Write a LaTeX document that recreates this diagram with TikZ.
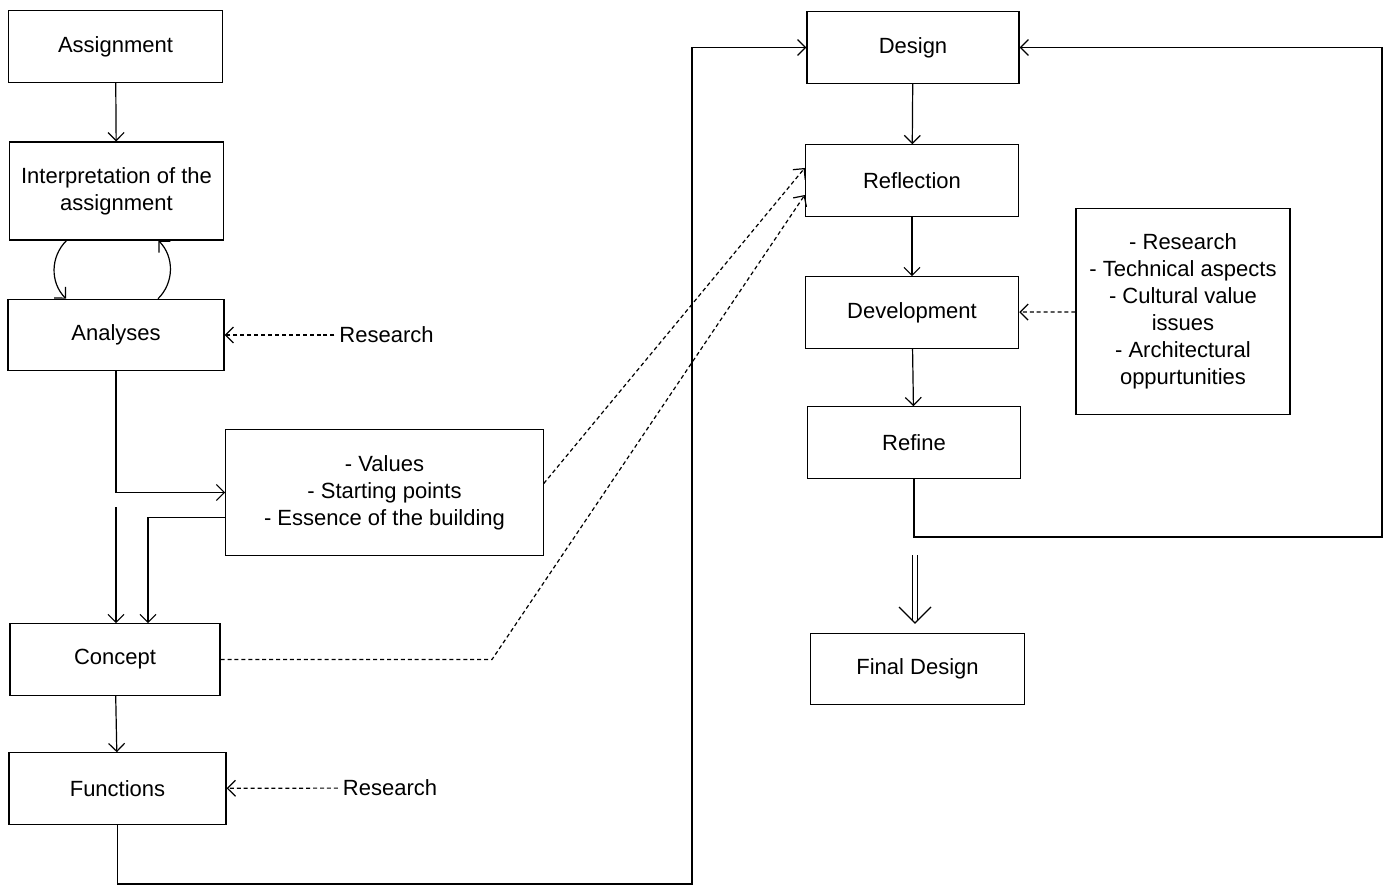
\documentclass[tikz,border=0pt]{standalone}
\usepackage{fontspec}
\setmainfont{Liberation Sans}
\usetikzlibrary{arrows.meta, positioning}

\begin{document}
\begin{tikzpicture}[
    x=0.75pt, y=-0.75pt,
    >={Straight Barb[length=6pt, width=12pt]},
    line width=0.9pt,
    font=\fontsize{16.5pt}{20.2pt}\selectfont,
    stepbox/.style={draw, minimum width=160pt, minimum height=53.5pt, align=center, inner sep=2pt},
    hint/.style={->, dash pattern=on 3pt off 2.2pt}
]
    \useasboundingbox (0,0) rectangle (1390,885);

    % --- LEFT COLUMN (Preparation) ---
    \node[stepbox] (assign) at (115.5,46.5) {Assignment};
    \node[stepbox, minimum height=73.5pt] (interp) at (116.5,191) {Interpretation of the\\assignment};
    \node[stepbox, minimum width=162pt] (analyses) at (116,335) {Analyses};
    \node[stepbox, minimum width=238pt, minimum height=94pt] (values) at (384.5,492.5)
        {- Values\\- Starting points\\- Essence of the building};
    \node[stepbox, minimum width=157.5pt] (concept) at (115,659.5) {Concept};
    \node[stepbox, minimum width=162.75pt] (functions) at (117.5,788.5) {Functions};

    % Side inputs
    \node (res1) at (386.5,335) {Research};
    \node (res2) at (390,788) {Research};

    % --- RIGHT COLUMN (Design cycle) ---
    \node[stepbox, minimum width=159pt] (design) at (913,47.5) {Design};
    \node[stepbox] (reflect) at (912,180.5) {Reflection};
    \node[stepbox] (develop) at (912,312.5) {Development};
    \node[stepbox] (refine) at (914,442.5) {Refine};
    \node[stepbox] (final) at (917.5,669) {Final Design};
    \node[stepbox, minimum width=160.5pt, minimum height=154pt] (aspects) at (1183,311.5)
        {- Research\\- Technical aspects\\- Cultural value\\issues\\- Architectural\\oppurtunities};

    % Turning points
    \coordinate (split) at (116,507);
    \coordinate (kink) at (492,659.5);
    \coordinate (lowturn) at (692,884);
    \coordinate (rightturn) at (1382,537);
    \coordinate (dblstart) at (915,555);
    \coordinate (dbltip) at (915,623);

    % --- TRANSITIONS ---
    \draw[->] (assign) -- (interp);
    \draw[->] ([xshift=-37.5pt]interp.south) to[bend right=45] ([xshift=-37.5pt]analyses.north);
    \draw[->] ([xshift=31.5pt]analyses.north) to[bend right=45] ([xshift=31.5pt]interp.south);
    \draw[hint] (res1) -- (analyses);
    \draw[->] (analyses) |- (values);
    \draw[->] (split) -- (split |- concept.north);
    \draw[->] ([yshift=-18.75pt]values.west) -| ([xshift=24.75pt]concept.north);
    \draw[->] (concept) -- (functions);
    \draw[hint] (res2) -- (functions);
    \draw[->] (functions) |- (lowturn) |- (design);

    % Feedback to reflection
    \draw[hint] ([yshift=6.75pt]values.east) -- ([yshift=9.4pt]reflect.west);
    \draw[hint] (concept) -- (kink) -- ([yshift=-10.9pt]reflect.west);

    % Design loop
    \draw[->] (design) -- (reflect);
    \draw[->] (reflect) -- (develop);
    \draw[->] (develop) -- (refine);
    \draw[hint] (aspects) -- (develop);
    \draw[->] (refine) |- (rightturn) |- (design);

    % Result
    \draw[double, double distance=3.4pt, line width=0.8pt] (dblstart) -- ([yshift=2pt]dbltip);
    \draw ([xshift=-12pt, yshift=12pt]dbltip) -- (dbltip) -- ([xshift=12pt, yshift=12pt]dbltip);

\end{tikzpicture}
\end{document}
